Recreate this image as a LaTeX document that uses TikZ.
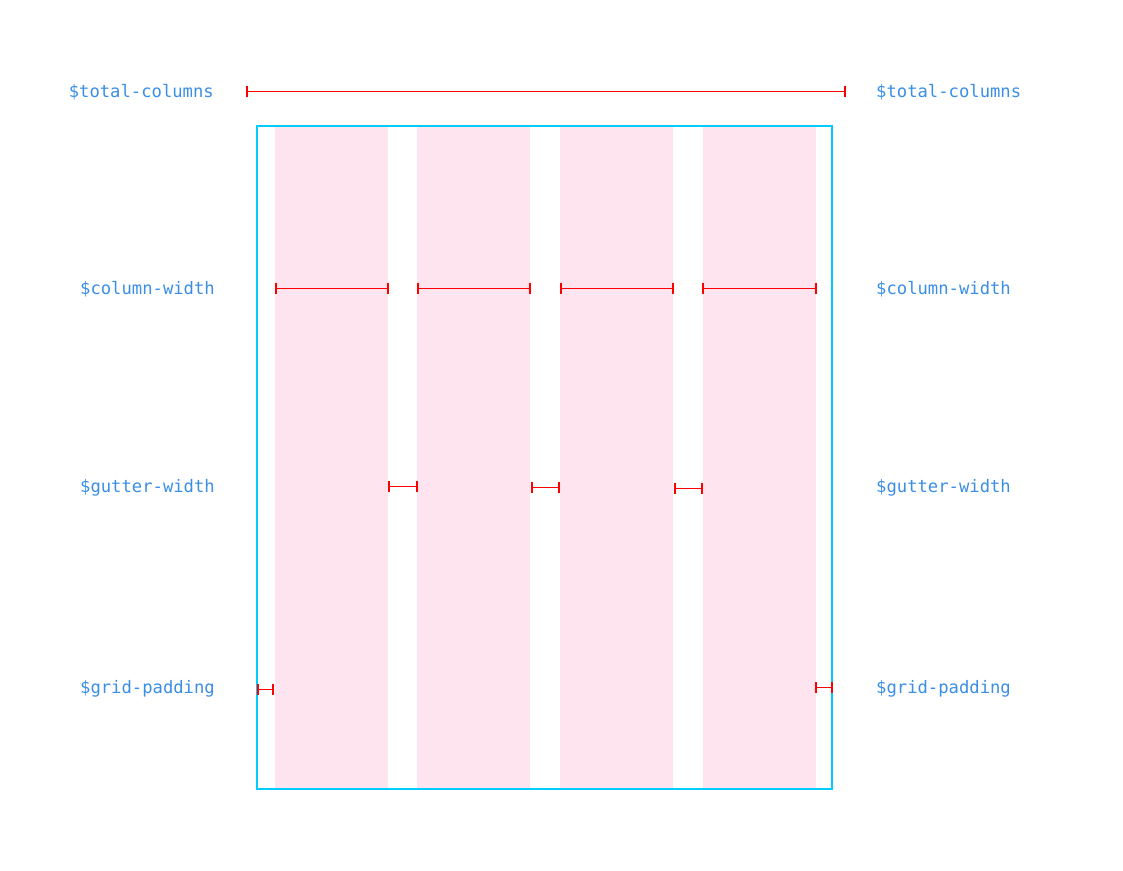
\documentclass[tikz,border=0pt]{standalone}
\usepackage{fontspec}
\setmonofont{DejaVu Sans Mono}
\usetikzlibrary{arrows.meta}
\definecolor{lbl}{RGB}{58,142,230}
\definecolor{pinkcol}{RGB}{253,228,238}
\definecolor{cyanbox}{RGB}{0,204,255}
\definecolor{dimred}{RGB}{255,0,0}
\tikzset{
  lblL/.style={anchor=east, text=lbl, font=\ttfamily\fontsize{17.2}{20}\selectfont, inner sep=0pt},
  lblR/.style={anchor=west, text=lbl, font=\ttfamily\fontsize{17.2}{20}\selectfont, inner sep=0pt},
  dimline/.style={draw=dimred, line width=1pt, {Bar[width=11pt,line width=1.8pt]}-{Bar[width=11pt,line width=1.8pt]}, shorten <=-0.9pt, shorten >=-0.9pt},
  gridbox/.style={draw=cyanbox, line width=1.5pt}
}
\begin{document}
\begin{tikzpicture}[x=1pt,y=-1pt]
\useasboundingbox (0,0) rectangle (1123,870);
% columns
\fill[pinkcol] (275,126) rectangle (388,789);
\fill[pinkcol] (417,126) rectangle (530,789);
\fill[pinkcol] (560,126) rectangle (673,789);
\fill[pinkcol] (703,126) rectangle (816,789);
% grid box
\draw[gridbox] (257,126) rectangle (832,789);
% labels
\node[lblL] (tcL) at (214,92.5) {\$total-columns};
\node[lblR] (tcR) at (876,92.5) {\$total-columns};
\node[lblL] (cwL) at (215,289.5) {\$column-width};
\node[lblR] (cwR) at (876,289.5) {\$column-width};
\node[lblL] (gwL) at (215,487.5) {\$gutter-width};
\node[lblR] (gwR) at (876,487.5) {\$gutter-width};
\node[lblL] (gpL) at (215,688.5) {\$grid-padding};
\node[lblR] (gpR) at (876,688.5) {\$grid-padding};
% dimension end points
\coordinate (t1) at (247,91);   \coordinate (t2) at (845,91);
\coordinate (c1a) at (276,288); \coordinate (c1b) at (388,288);
\coordinate (c2a) at (418,288); \coordinate (c2b) at (530,288);
\coordinate (c3a) at (561,288); \coordinate (c3b) at (673,288);
\coordinate (c4a) at (703,288); \coordinate (c4b) at (816,288);
\coordinate (g1a) at (389,486); \coordinate (g1b) at (417,486);
\coordinate (g2a) at (532,487); \coordinate (g2b) at (559,487);
\coordinate (g3a) at (675,488); \coordinate (g3b) at (702,488);
\coordinate (p1a) at (258,689); \coordinate (p1b) at (273,689);
\coordinate (p2a) at (816,687); \coordinate (p2b) at (832,687);
% dimension lines
\draw[dimline] (t1) -- (t2);
\draw[dimline] (c1a) -- (c1b);
\draw[dimline] (c2a) -- (c2b);
\draw[dimline] (c3a) -- (c3b);
\draw[dimline] (c4a) -- (c4b);
\draw[dimline] (g1a) -- (g1b);
\draw[dimline] (g2a) -- (g2b);
\draw[dimline] (g3a) -- (g3b);
\draw[dimline] (p1a) -- (p1b);
\draw[dimline] (p2a) -- (p2b);
\end{tikzpicture}
\end{document}
